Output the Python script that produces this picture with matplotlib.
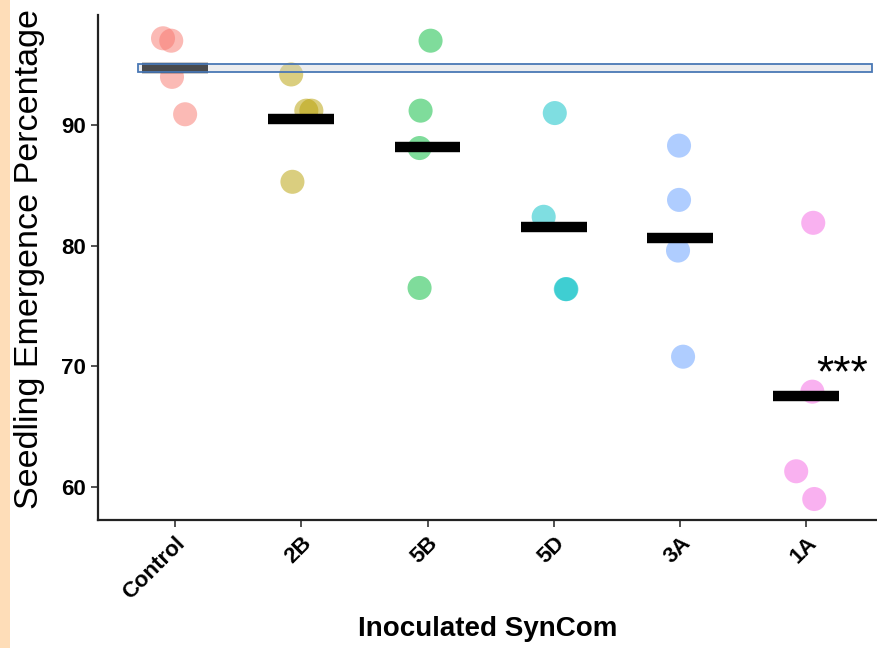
import matplotlib
matplotlib.use("Agg")
import matplotlib.pyplot as plt
from matplotlib.patches import Rectangle
import numpy as np

# Seedling emergence (%) per pot, by inoculated SynCom
groups = ["Control", "2B", "5B", "5D", "3A", "1A"]
control = [97.2, 97.0, 94.0, 90.9]
syn_2b = [94.2, 91.2, 91.2, 85.3]
syn_5b = [97.0, 91.2, 88.1, 76.5]
syn_5d = [91.0, 82.4, 76.4, 76.4]
syn_3a = [88.3, 83.8, 79.6, 70.8]
syn_1a = [81.9, 67.9, 61.3, 59.0]
values = [control, syn_2b, syn_5b, syn_5d, syn_3a, syn_1a]

# horizontal jitter of each point around its group position
jitter = [
    [-0.095, -0.03, -0.024, 0.08],
    [-0.08, 0.04, 0.08, -0.07],
    [0.024, -0.055, -0.063, -0.063],
    [0.008, -0.08, 0.095, 0.10],
    [-0.008, -0.008, -0.016, 0.024],
    [0.055, 0.048, -0.08, 0.063],
]
colors = ["#F8766D", "#B79F00", "#00BA38", "#00BFC4", "#619CFF", "#F564E3"]

plt.rcParams["font.family"] = ["Liberation Sans", "DejaVu Sans"]

fig = plt.figure(figsize=(8.77, 6.48), dpi=100)
fig.patch.set_facecolor("white")

# peach strip along the left edge
fig.add_artist(Rectangle((0, 0), 10 / 877, 1, transform=fig.transFigure,
                         facecolor="#FEDDB8", edgecolor="none"))

ax = fig.add_axes([98 / 877, 128 / 648, 779 / 877, 505 / 648])

for i, (vals, jit, col) in enumerate(zip(values, jitter, colors)):
    xs = i + np.array(jit)
    ax.scatter(xs, vals, s=300, color=col, alpha=0.5, edgecolors="none", zorder=2)
    m = np.mean(vals)
    ax.plot([i - 0.26, i + 0.26], [m, m], color="black", lw=7.5,
            solid_capstyle="butt", zorder=3)

# reference band at the control mean
ctrl_mean = np.mean(control)
ax.add_patch(Rectangle((-0.29, ctrl_mean - 0.33), 5.81, 0.66,
                       facecolor=(0.80, 0.81, 0.83, 0.36),
                       edgecolor="#4a78b5", lw=1.3, zorder=4))

ax.text(5.08, 69.3, "***", fontsize=32, ha="left", va="center", color="black")

ax.set_xlim(-0.61, 5.56)
ax.set_ylim(57.26, 99.13)
ax.set_xticks(range(len(groups)))
ax.set_xticklabels(groups, rotation=45, ha="right", rotation_mode="anchor",
                   fontsize=16, fontweight="bold")
ax.set_yticks([60, 70, 80, 90])
ax.set_yticklabels(["60", "70", "80", "90"], fontsize=16, fontweight="bold")
ax.tick_params(axis="both", length=5, width=1.2, color="#333333", pad=4)

for side in ["top", "right"]:
    ax.spines[side].set_visible(False)
for side in ["left", "bottom"]:
    ax.spines[side].set_linewidth(1.6)
    ax.spines[side].set_color("#222222")

ax.set_xlabel("Inoculated SynCom", fontsize=20, fontweight="bold", labelpad=9)
ax.set_ylabel("Seedling Emergence Percentage", fontsize=24.5)
ax.yaxis.set_label_coords(-0.068, 0.516)

fig.savefig("out.png", dpi=100)
